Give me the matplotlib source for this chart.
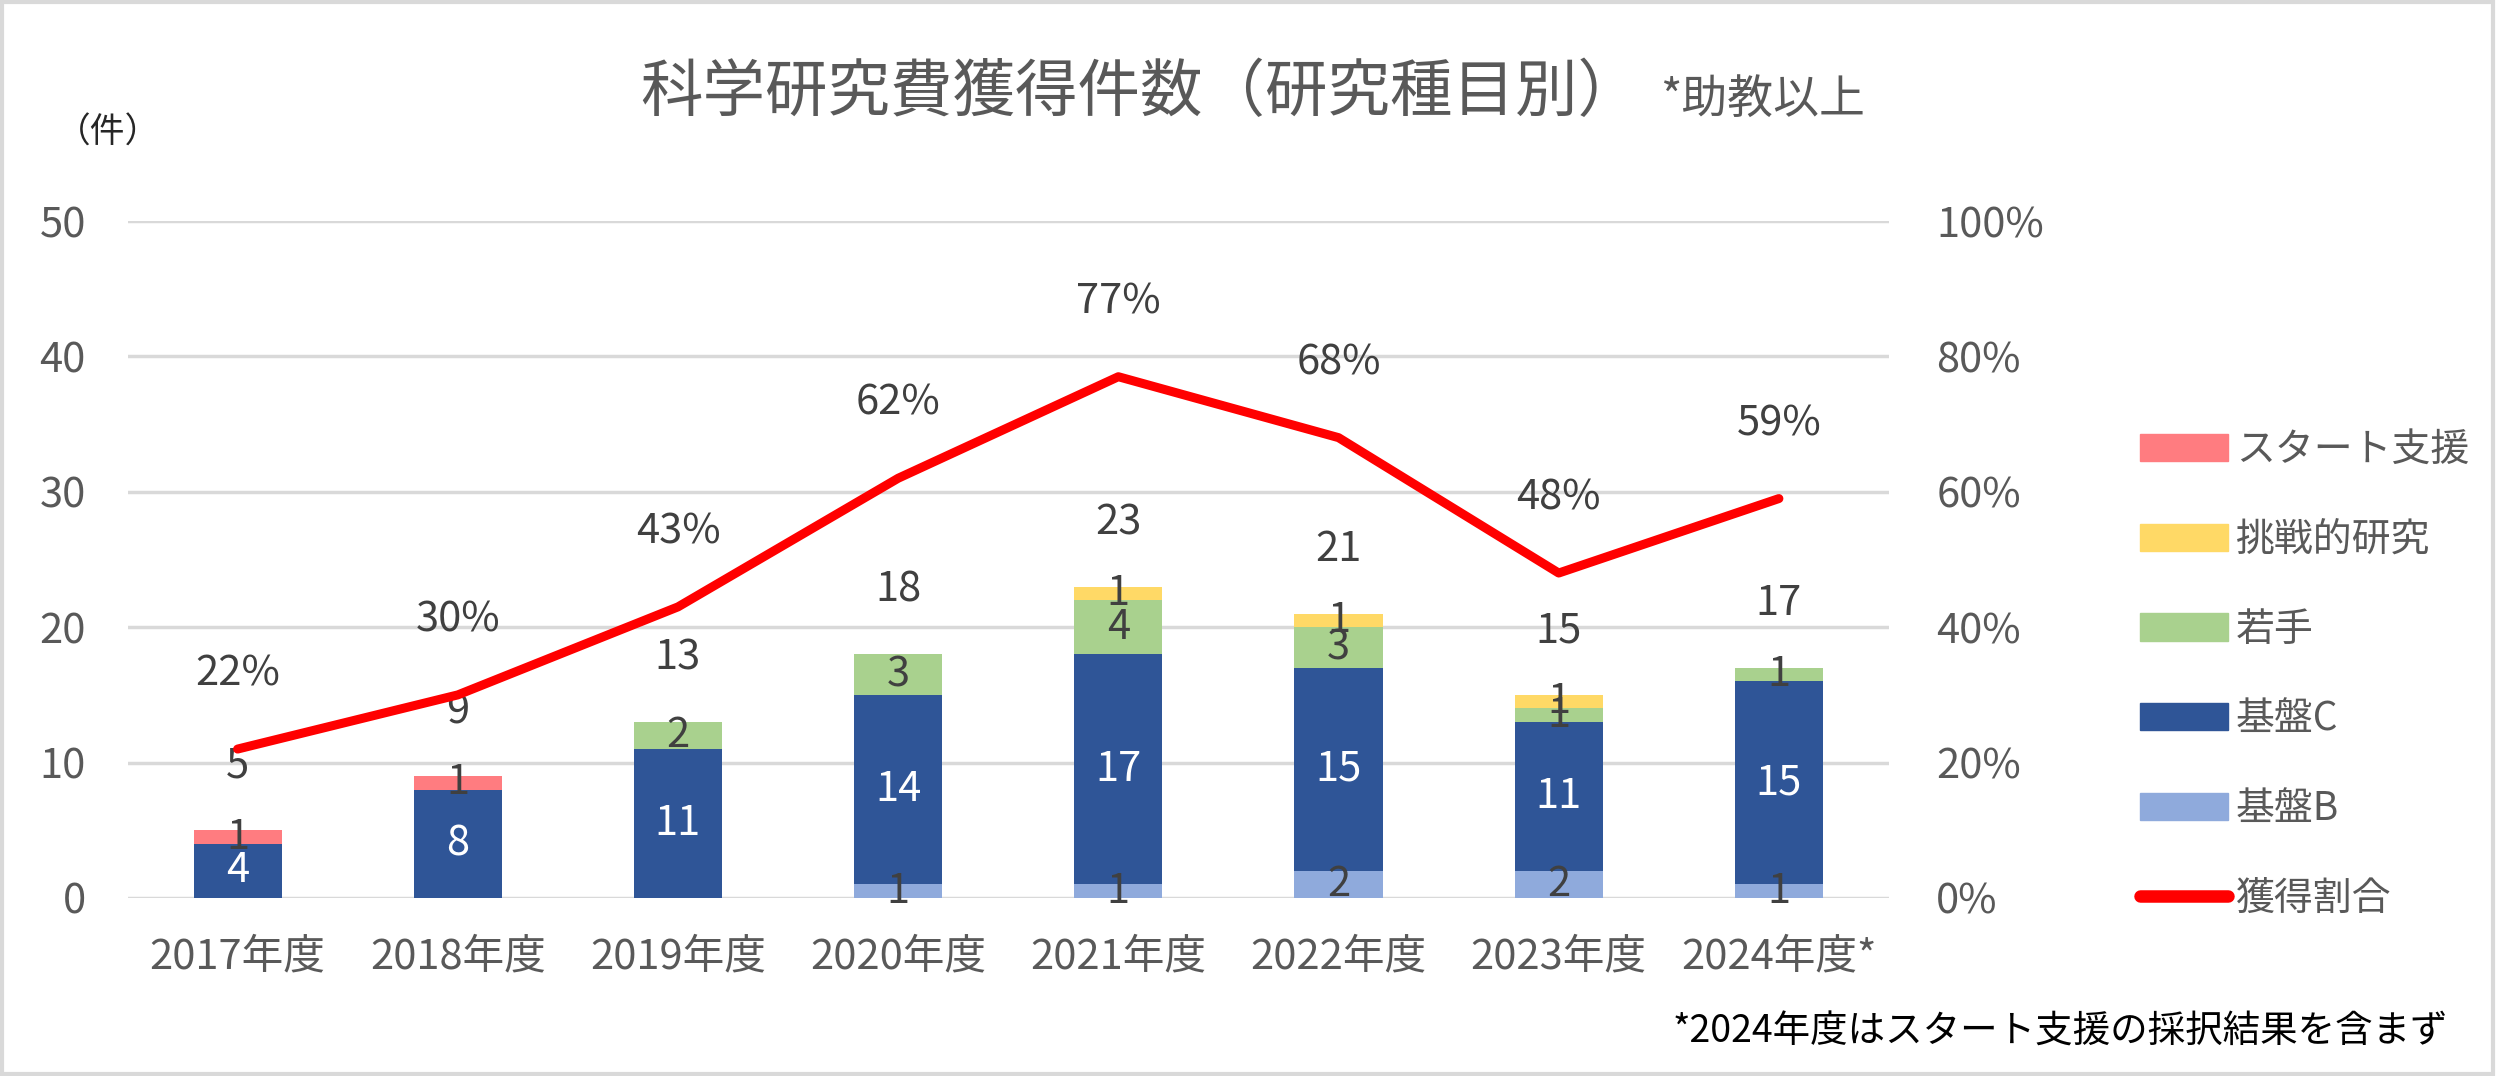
import matplotlib
matplotlib.use('Agg')
import matplotlib.pyplot as plt
import numpy as np
from matplotlib.patches import Patch, Rectangle
from matplotlib.lines import Line2D

plt.rcParams['font.family'] = ['Noto Sans CJK JP', 'DejaVu Sans']

years = ['2017年度', '2018年度', '2019年度', '2020年度', '2021年度', '2022年度', '2023年度', '2024年度*']
kiban_b = [0, 0, 0, 1, 1, 2, 2, 1]
kiban_c = [4, 8, 11, 14, 17, 15, 11, 15]
wakate = [0, 0, 2, 3, 4, 3, 1, 1]
chosen = [0, 0, 0, 0, 1, 1, 1, 0]
start = [1, 1, 0, 0, 0, 0, 0, 0]
totals = [5, 9, 13, 18, 23, 21, 15, 17]
ratio = [0.22, 0.30, 0.43, 0.62, 0.77, 0.68, 0.48, 0.59]

series = [
    ('基盤B', kiban_b, '#8FAADC', '#404040'),
    ('基盤C', kiban_c, '#2F5597', 'white'),
    ('若手', wakate, '#A9D18E', '#404040'),
    ('挑戦的研究', chosen, '#FFD966', '#404040'),
    ('スタート支援', start, '#FF7C80', '#404040'),
]

W, H = 2498, 1076
fig = plt.figure(figsize=(W / 100, H / 100), dpi=100)
ax = fig.add_axes([127.5 / W, 1 - 898 / H, (1889 - 127.5) / W, (898 - 221) / H])
ax2 = ax.twinx()

gray = '#595959'
x = np.arange(len(years))
bottom = np.zeros(len(years))
for name, vals, col, tcol in series:
    vals = np.array(vals, dtype=float)
    ax.bar(x, vals, 0.4, bottom=bottom, color=col, zorder=2)
    for i, v in enumerate(vals):
        if v > 0:
            ax.text(x[i], bottom[i] + v / 2, '%d' % v, ha='center', va='center',
                    fontsize=30, color=tcol, zorder=3)
    bottom += vals

# totals above the bars
for i, t in enumerate(totals):
    ax.annotate('%d' % t, (x[i], t), xytext=(0, 46), textcoords='offset points',
                ha='center', va='center', fontsize=30, color='#404040')

ax.set_ylim(0, 50)
ax.set_xlim(-0.5, len(years) - 0.5)
ax.set_yticks([0, 10, 20, 30, 40, 50])
ax.set_xticks(x)
ax.set_xticklabels(years)
ax.grid(axis='y', color='#D9D9D9', lw=2.5, zorder=0)
ax.set_axisbelow(True)
ax.tick_params(axis='y', length=0, pad=30, labelsize=30, labelcolor=gray)
ax.tick_params(axis='x', length=0, pad=28, labelsize=30, labelcolor=gray)
for s in ax.spines.values():
    s.set_visible(False)

ax2.plot(x, ratio, color='#FF0000', lw=6.5, solid_capstyle='round', solid_joinstyle='round', zorder=5)
for i, r in enumerate(ratio):
    ax2.annotate('%d%%' % round(r * 100), (x[i], r), xytext=(0, 54), textcoords='offset points',
                 ha='center', va='center', fontsize=30, color='#404040')
ax2.set_ylim(0, 1)
ax2.set_yticks([0, 0.2, 0.4, 0.6, 0.8, 1.0])
ax2.set_yticklabels(['0%', '20%', '40%', '60%', '80%', '100%'])
ax2.tick_params(axis='y', length=0, pad=34, labelsize=30, labelcolor=gray)
for s in ax2.spines.values():
    s.set_visible(False)

handles = [Patch(color=c) for _, _, c, _ in series[::-1]]
labels = [n for n, _, _, _ in series[::-1]]
handles.append(Line2D([], [], color='#FF0000', lw=9, solid_capstyle='round'))
labels.append('獲得割合')
leg = fig.legend(handles, labels, loc='upper left', bbox_to_anchor=(2140 / W, 1 - 430 / H),
                 frameon=False, fontsize=28, handlelength=2.26, handleheight=0.7,
                 labelspacing=1.28, handletextpad=0.2, borderpad=0, borderaxespad=0)
for t in leg.get_texts():
    t.set_color(gray)

fig.text(1140 / W, 1 - 93 / H, '科学研究費獲得件数（研究種目別）', ha='center', va='center',
         fontsize=45, color=gray)
fig.text(1660 / W, 1 - 100 / H, '*助教以上', ha='left', va='center', fontsize=33, color=gray)
fig.text(56 / W, 1 - 133 / H, '（件）', ha='left', va='center', fontsize=25, color='#262626')
fig.text(2448 / W, 1 - 1032 / H, '*2024年度はスタート支援の採択結果を含まず', ha='right', va='center',
         fontsize=27, color='black')

fig.patches.append(Rectangle((0.001, 0.002), 0.997, 0.996, transform=fig.transFigure,
                             fill=False, ec='#D9D9D9', lw=3))

fig.savefig('out.png', dpi=100, facecolor='white')
